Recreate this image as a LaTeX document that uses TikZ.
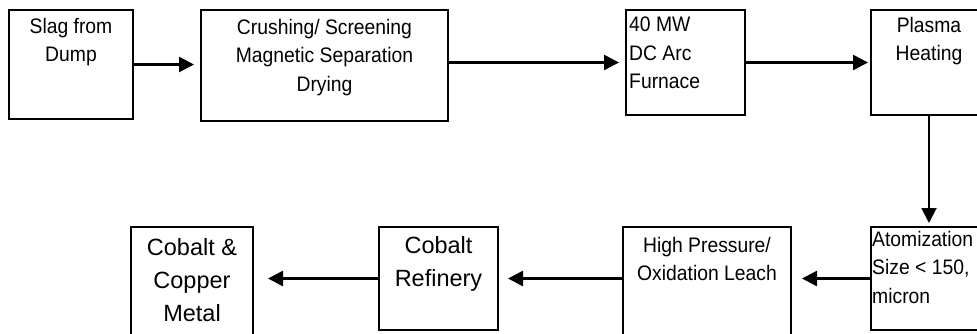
\documentclass[tikz,border=0pt]{standalone}
\usepackage{fontspec}
\setmainfont{Liberation Sans}
\newfontfamily\narrowfont[FakeStretch=0.92]{Liberation Sans}
\usetikzlibrary{arrows.meta,positioning}

\begin{document}
\begin{tikzpicture}[x=1pt,y=-1pt,
    every node/.style={font=\narrowfont\fontsize{21}{28.5}\selectfont},
    stage/.style={draw,line width=2pt,inner sep=0pt,anchor=north west},
    caption/.style={align=center,inner sep=0pt,anchor=north},
    capleft/.style={align=left,inner sep=0pt,anchor=north west},
    big/.style={font=\fontsize{23.5}{33}\selectfont},
    arrow/.style={-{Triangle[length=15pt,width=15pt]},line width=2.5pt}
  ]
    \useasboundingbox (0,0) rectangle (977,334);
    \clip (0,0) rectangle (977,334);
    % top row
    \node[stage,minimum width=124pt,minimum height=109pt] (slag) at (8,9) {};
    \node[stage,minimum width=247pt,minimum height=111pt,
          right=66pt of slag.north east,anchor=north west] (crush) {};
    \node[stage,minimum width=119pt,minimum height=105pt,
          right=176pt of crush.north east,anchor=north west] (furnace) {};
    \node[stage,minimum width=116pt,minimum height=105pt,
          right=124pt of furnace.north east,anchor=north west] (plasma) {};
    % bottom row
    \node[stage,minimum width=116pt,minimum height=103pt,
          below=110pt of plasma.south west,anchor=north west] (atom) {};
    \node[stage,minimum width=168pt,minimum height=125pt,
          left=78pt of atom.north west,anchor=north east] (leach) {};
    \node[stage,minimum width=119pt,minimum height=103pt,
          left=123pt of leach.north west,anchor=north east] (refinery) {};
    \node[stage,minimum width=122pt,minimum height=125pt,
          left=124pt of refinery.north west,anchor=north east] (metal) {};
    % texts
    \node[caption] (slagtxt) at ([yshift=-9pt]slag.north) {Slag from\\Dump};
    \node[caption] (crushtxt) at ([yshift=-10pt]crush.north)
      {Crushing/ Screening\\Magnetic Separation\\Drying};
    \node[capleft] (furnacetxt) at ([xshift=4pt,yshift=-8pt]furnace.north west)
      {40 MW\\DC Arc\\Furnace};
    \node[caption] (plasmatxt) at ([yshift=-8pt]plasma.north) {Plasma\\Heating};
    \node[capleft] (atomtxt) at ([xshift=2pt,yshift=-5pt]atom.north west)
      {Atomization\\Size < 150,\\micron};
    \node[caption] (leachtxt) at ([yshift=-11pt]leach.north)
      {High Pressure/\\Oxidation Leach};
    \node[caption,big] (refinerytxt) at ([yshift=-10pt]refinery.north)
      {Cobalt\\Refinery};
    \node[caption,big] (metaltxt) at ([yshift=-12pt]metal.north)
      {Cobalt \&\\Copper\\Metal};
    % flow
    \draw[arrow,shorten >=6pt] (slag.east) -- (slag.east -| crush.west);
    \draw[arrow,shorten >=6pt] (crush.east |- furnace.west) -- (furnace.west);
    \draw[arrow,shorten >=2pt] (furnace.east) -- (plasma.west);
    \draw[arrow,line width=2pt,shorten >=3pt] (plasma.south) -- (plasma.south |- atom.north);
    \draw[arrow,shorten >=10pt] (atom.west) -- (atom.west -| leach.east);
    \draw[arrow,shorten >=9pt] (leach.west |- refinery.west) -- (refinery.east);
    \draw[arrow,shorten >=14pt] (refinery.west) -- (refinery.west -| metal.east);
  \end{tikzpicture}
\end{document}
